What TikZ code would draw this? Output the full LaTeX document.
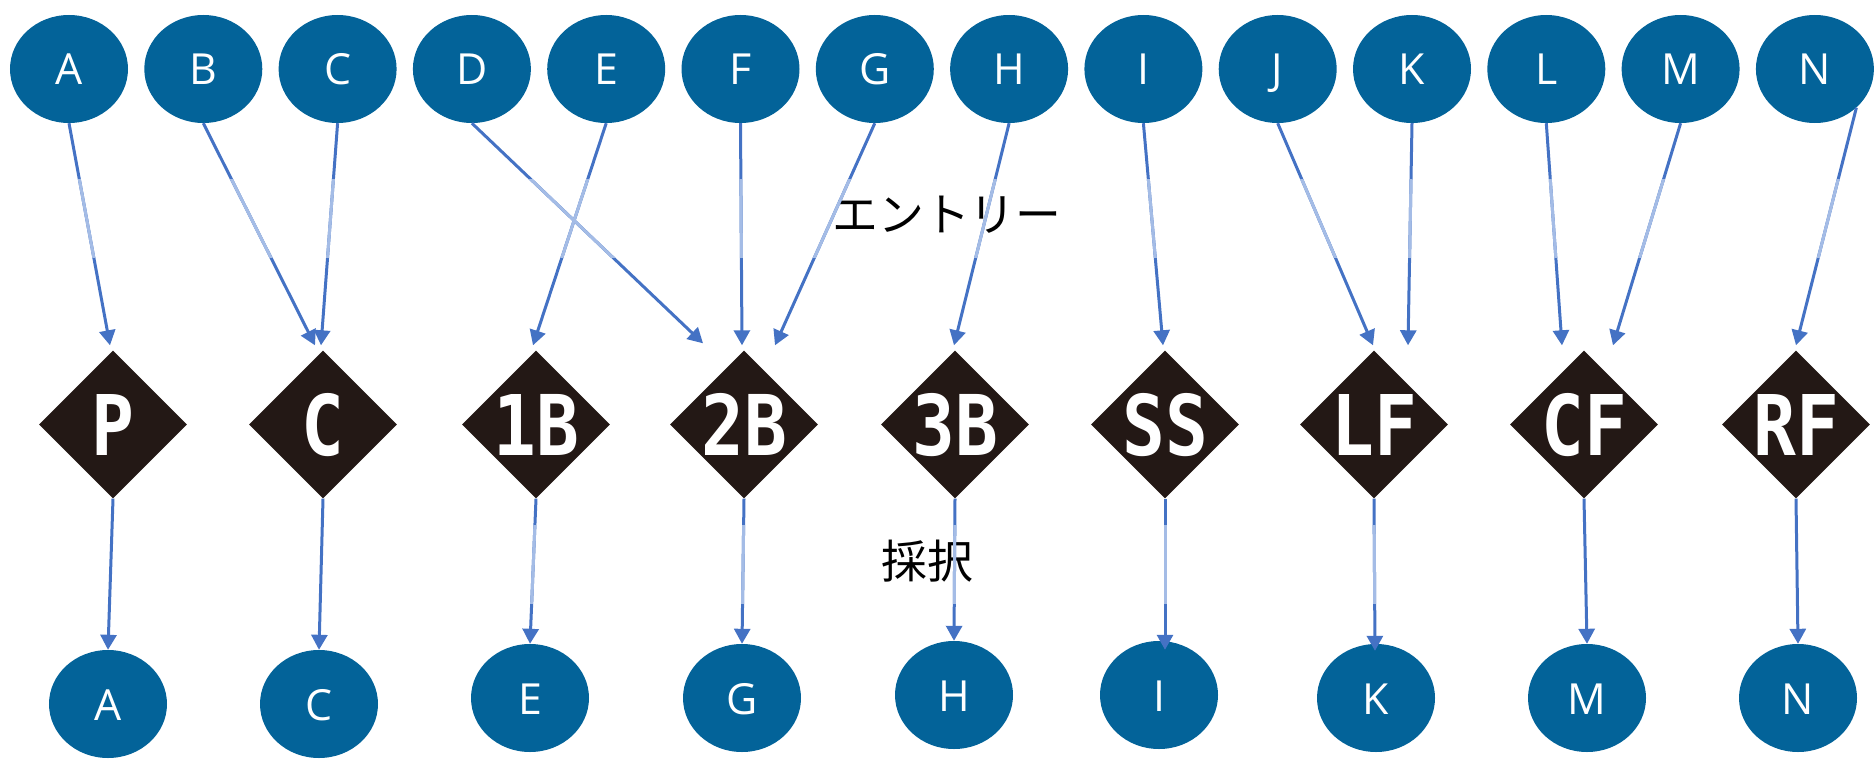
\documentclass[tikz,border=0pt]{standalone}
\usepackage{fontspec}
\usetikzlibrary{shapes.geometric,arrows.meta,calc}
\newfontfamily\labfont{Open Sans}
\newfontfamily\posfam[FakeStretch=0.85]{DejaVu Sans Mono}
\newfontfamily\cjkfont{Noto Sans CJK JP}
\definecolor{nodeblue}{RGB}{3,99,153}
\definecolor{diafill}{RGB}{35,24,21}
\definecolor{lineblue}{RGB}{68,114,196}
\definecolor{lightblue}{RGB}{164,188,230}
\tikzset{
  player/.style={ellipse, fill=nodeblue, minimum width=118bp, minimum height=108bp,
    inner sep=0pt, text=white, font={\labfont\fontsize{43}{43}\selectfont},
    text height=32bp, text depth=0pt},
  posbox/.style={diamond, fill=diafill, minimum width=148bp, minimum height=148bp,
    inner sep=0pt, text=white, font={\posfam\bfseries\fontsize{84}{84}\selectfont},
    text height=61bp, text depth=0pt},
  conn/.style={draw=lineblue, line width=3bp, -{Triangle[length=15bp,width=16bp]}},
  connlight/.style={draw=lightblue, line width=3bp},
  jlabel/.style={font={\cjkfont\fontsize{46}{46}\selectfont}, inner sep=0pt, text=black}
}
\begin{document}
\begin{tikzpicture}[x=1bp,y=-1bp]
\useasboundingbox (0,0) rectangle (1874,764);
% top row
\foreach \n/\x in {A/69,B/203.3,C/337.6,D/471.9,E/606.2,F/740.5,G/874.8,H/1009.1,I/1143.4,J/1277.7,K/1412,L/1546.3,M/1680.6,N/1814.9}
  \node[player] (t\n) at (\x,69) {\n};
% positions
\foreach \n/\x in {P/113,C/323,1B/536,2B/744,3B/955,SS/1165,LF/1374,CF/1584,RF/1796}
  \node[posbox] (d\n) at (\x,424.5) {\n};
% bottom row
\foreach \n/\x/\y in {A/108/704,C/319/704,E/530/698,G/742/698,H/954/695,I/1159/695,K/1376/698,M/1587/698,N/1798/698}
  \node[player] (b\n) at (\x,\y) {\n};
% labels
\node[jlabel] (entry) at (947,215) {エントリー};
\node[jlabel] (saitaku) at (927,561) {採択};
% arrow targets
\coordinate (eA) at ($(dP.north)+(-3,-5)$);
\coordinate (eB) at ($(dC.north)+(-8,-5)$);
\coordinate (eC) at ($(dC.north)+(-2,-5)$);
\coordinate (eD) at ($(d2B.north)+(-41,-7)$);
\coordinate (eE) at ($(d1B.north)+(-3,-5)$);
\coordinate (eF) at ($(d2B.north)+(-2,-5)$);
\coordinate (eG) at ($(d2B.north)+(31,-5)$);
\coordinate (eH) at ($(d3B.north)+(-1,-5)$);
\coordinate (eI) at ($(dSS.north)+(-2,-5)$);
\coordinate (eJ) at ($(dLF.north)+(-1,-5)$);
\coordinate (eK) at ($(dLF.north)+(34,-5)$);
\coordinate (eL) at ($(dCF.north)+(-22,-5)$);
\coordinate (eM) at ($(dCF.north)+(29,-5)$);
\coordinate (eN) at ($(dRF.north)+(0,-5)$);
\coordinate (fI) at ($(bI.north)+(6,9)$);
\coordinate (fK) at ($(bK.north)+(-1,7)$);
% top connectors
\foreach \s/\t in {tA.south/eA,tB.south/eB,tC.south/eC,tD.south/eD,tE.south/eE,tF.south/eF,tG.south/eG,tH.south/eH,tI.south/eI,tJ.south/eJ,tK.south/eK,tL.south/eL,tM.south/eM,tN.-43/eN}
  \draw[conn] (\s) -- (\t);
\begin{scope}
  \clip (0,179) rectangle (1874,257);
  \foreach \s/\t in {tA.south/eA,tB.south/eB,tC.south/eC,tD.south/eD,tE.south/eE,tF.south/eF,tG.south/eG,tH.south/eH,tI.south/eI,tJ.south/eJ,tK.south/eK,tL.south/eL,tM.south/eM,tN.-43/eN}
    \draw[connlight] (\s) -- (\t);
\end{scope}
% bottom connectors
\foreach \s/\t in {dP.south/bA.north,dC.south/bC.north,d1B.south/bE.north,d2B.south/bG.north,d3B.south/bH.north,dSS.south/fI,dLF.south/fK,dCF.south/bM.north,dRF.south/bN.north}
  \draw[conn] (\s) -- (\t);
\begin{scope}
  \clip (0,525) rectangle (1874,603);
  \foreach \s/\t in {d1B.south/bE.north,d2B.south/bG.north,d3B.south/bH.north,dSS.south/fI,dLF.south/fK}
    \draw[connlight] (\s) -- (\t);
\end{scope}
\end{tikzpicture}
\end{document}
